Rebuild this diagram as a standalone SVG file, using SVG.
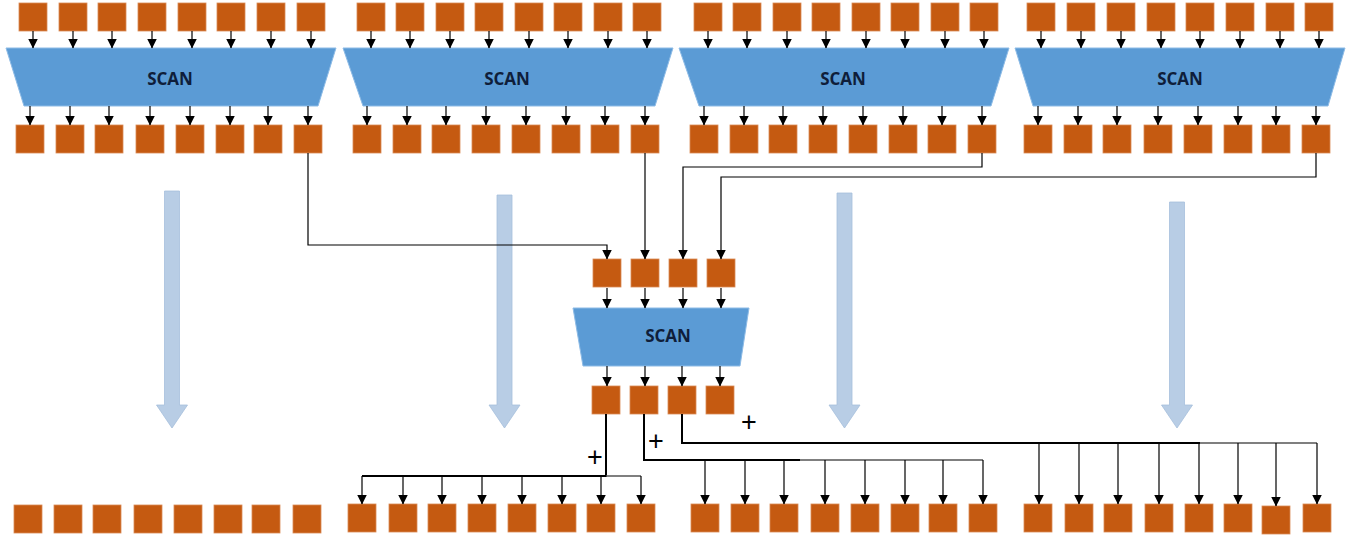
<svg xmlns="http://www.w3.org/2000/svg" width="1352" height="542" viewBox="0 0 1352 542">
<style>
.b{fill:#c55a11;stroke:#d98a55;stroke-width:0.8}
.t{fill:#5b9bd5;stroke:#8dbbe6;stroke-width:1}
.lbl{font-family:"Open Sans","Liberation Sans",sans-serif;font-weight:bold;font-size:17px;fill:#0f1e3a;text-anchor:middle;dominant-baseline:central}
.big{fill:#b8cde5;stroke:#a6bfdc;stroke-width:0.8}
.a{fill:none;stroke:#000;stroke-width:1.2;marker-end:url(#ah)}
.g{fill:none;stroke:#555;stroke-width:1.6}
.k{fill:none;stroke:#000;stroke-width:2}
.p{font-family:"Liberation Sans",Arial,sans-serif;font-size:27px;fill:#000;text-anchor:middle}
</style>
<defs>
<marker id="ah" markerUnits="userSpaceOnUse" markerWidth="11" markerHeight="11" refX="9.5" refY="5" orient="auto">
<path d="M0,0 L10,5 L0,10 z" fill="#000"/>
</marker>
<rect id="sq" width="28" height="28"/>
</defs>

<!-- Section 1 -->
<g id="s1-top">
<use href="#sq" class="b" x="19" y="3"/><use href="#sq" class="b" x="59" y="3"/><use href="#sq" class="b" x="98" y="3"/><use href="#sq" class="b" x="138" y="3"/>
<use href="#sq" class="b" x="178" y="3"/><use href="#sq" class="b" x="217" y="3"/><use href="#sq" class="b" x="257" y="3"/><use href="#sq" class="b" x="297" y="3"/>
</g>
<g id="scan1"><polygon class="t" points="6,48 336,48 318,106 24,106"/><text class="lbl" x="170" y="78">SCAN</text></g>
<g id="s1-out">
<use href="#sq" class="b" x="16" y="125"/><use href="#sq" class="b" x="56" y="125"/><use href="#sq" class="b" x="95" y="125"/><use href="#sq" class="b" x="136" y="125"/>
<use href="#sq" class="b" x="176" y="125"/><use href="#sq" class="b" x="216" y="125"/><use href="#sq" class="b" x="254" y="125"/><use href="#sq" class="b" x="294" y="125"/>
</g>

<!-- Section 2 -->
<g id="s2-top">
<use href="#sq" class="b" x="357" y="3"/><use href="#sq" class="b" x="396" y="3"/><use href="#sq" class="b" x="436" y="3"/><use href="#sq" class="b" x="475" y="3"/>
<use href="#sq" class="b" x="515" y="3"/><use href="#sq" class="b" x="554" y="3"/><use href="#sq" class="b" x="594" y="3"/><use href="#sq" class="b" x="633" y="3"/>
</g>
<g id="scan2"><polygon class="t" points="343,48 673,48 655,106 363,106"/><text class="lbl" x="507" y="78">SCAN</text></g>
<g id="s2-out">
<use href="#sq" class="b" x="353" y="125"/><use href="#sq" class="b" x="393" y="125"/><use href="#sq" class="b" x="432" y="125"/><use href="#sq" class="b" x="472" y="125"/>
<use href="#sq" class="b" x="512" y="125"/><use href="#sq" class="b" x="552" y="125"/><use href="#sq" class="b" x="591" y="125"/><use href="#sq" class="b" x="631" y="125"/>
</g>

<!-- Section 3 -->
<g id="s3-top">
<use href="#sq" class="b" x="694" y="3"/><use href="#sq" class="b" x="733" y="3"/><use href="#sq" class="b" x="773" y="3"/><use href="#sq" class="b" x="812" y="3"/>
<use href="#sq" class="b" x="852" y="3"/><use href="#sq" class="b" x="891" y="3"/><use href="#sq" class="b" x="931" y="3"/><use href="#sq" class="b" x="970" y="3"/>
</g>
<g id="scan3"><polygon class="t" points="679,48 1009,48 991,106 699,106"/><text class="lbl" x="843" y="78">SCAN</text></g>
<g id="s3-out">
<use href="#sq" class="b" x="690" y="125"/><use href="#sq" class="b" x="730" y="125"/><use href="#sq" class="b" x="769" y="125"/><use href="#sq" class="b" x="809" y="125"/>
<use href="#sq" class="b" x="849" y="125"/><use href="#sq" class="b" x="889" y="125"/><use href="#sq" class="b" x="928" y="125"/><use href="#sq" class="b" x="968" y="125"/>
</g>

<!-- Section 4 -->
<g id="s4-top">
<use href="#sq" class="b" x="1027" y="3"/><use href="#sq" class="b" x="1067" y="3"/><use href="#sq" class="b" x="1107" y="3"/><use href="#sq" class="b" x="1147" y="3"/>
<use href="#sq" class="b" x="1186" y="3"/><use href="#sq" class="b" x="1226" y="3"/><use href="#sq" class="b" x="1266" y="3"/><use href="#sq" class="b" x="1305" y="3"/>
</g>
<g id="scan4"><polygon class="t" points="1015,48 1345,48 1328,106 1033,106"/><text class="lbl" x="1180" y="78">SCAN</text></g>
<g id="s4-out">
<use href="#sq" class="b" x="1024" y="125"/><use href="#sq" class="b" x="1064" y="125"/><use href="#sq" class="b" x="1103" y="125"/><use href="#sq" class="b" x="1144" y="125"/>
<use href="#sq" class="b" x="1184" y="125"/><use href="#sq" class="b" x="1224" y="125"/><use href="#sq" class="b" x="1262" y="125"/><use href="#sq" class="b" x="1302" y="125"/>
</g>

<!-- Big light-blue arrows -->
<g id="big-arrows">
<polygon class="big" points="164.5,191 179.5,191 179.5,405 187.5,405 172,428 156.5,405 164.5,405"/>
<polygon class="big" points="497,195 512,195 512,405 520,405 504.5,428 489,405 497,405"/>
<polygon class="big" points="837,193 852,193 852,405 860,405 844.5,428 829,405 837,405"/>
<polygon class="big" points="1169.5,202 1184.5,202 1184.5,405 1192.5,405 1177,428 1161.5,405 1169.5,405"/>
</g>

<!-- Middle scan -->
<g id="mid-in">
<use href="#sq" class="b" x="593" y="259"/><use href="#sq" class="b" x="631" y="259"/><use href="#sq" class="b" x="669" y="259"/><use href="#sq" class="b" x="707" y="259"/>
</g>
<g id="scan-mid"><polygon class="t" points="573,308 749,308 740,366 583,366"/><text class="lbl" x="668" y="335">SCAN</text></g>
<g id="mid-out">
<use href="#sq" class="b" x="592" y="386"/><use href="#sq" class="b" x="630" y="386"/><use href="#sq" class="b" x="668" y="386"/><use href="#sq" class="b" x="706" y="386"/>
</g>

<!-- Bottom rows -->
<g id="r1">
<use href="#sq" class="b" x="14" y="505"/><use href="#sq" class="b" x="54" y="505"/><use href="#sq" class="b" x="93" y="505"/><use href="#sq" class="b" x="134" y="505"/>
<use href="#sq" class="b" x="174" y="505"/><use href="#sq" class="b" x="214" y="505"/><use href="#sq" class="b" x="252" y="505"/><use href="#sq" class="b" x="293" y="505"/>
</g>
<g id="r2">
<use href="#sq" class="b" x="348" y="504"/><use href="#sq" class="b" x="389" y="504"/><use href="#sq" class="b" x="428" y="504"/><use href="#sq" class="b" x="468" y="504"/>
<use href="#sq" class="b" x="508" y="504"/><use href="#sq" class="b" x="548" y="504"/><use href="#sq" class="b" x="587" y="504"/><use href="#sq" class="b" x="627" y="504"/>
</g>
<g id="r3">
<use href="#sq" class="b" x="691" y="504"/><use href="#sq" class="b" x="731" y="504"/><use href="#sq" class="b" x="770" y="504"/><use href="#sq" class="b" x="811" y="504"/>
<use href="#sq" class="b" x="851" y="504"/><use href="#sq" class="b" x="891" y="504"/><use href="#sq" class="b" x="929" y="504"/><use href="#sq" class="b" x="969" y="504"/>
</g>
<g id="r4">
<use href="#sq" class="b" x="1024" y="504"/><use href="#sq" class="b" x="1065" y="504"/><use href="#sq" class="b" x="1104" y="504"/><use href="#sq" class="b" x="1145" y="504"/>
<use href="#sq" class="b" x="1185" y="504"/><use href="#sq" class="b" x="1224" y="504"/><use href="#sq" class="b" x="1262" y="506"/><use href="#sq" class="b" x="1303" y="504"/>
</g>

<!-- Connectors -->
<g id="connectors">
<g id="s1-in-arrows">
<line class="a" x1="33" y1="31" x2="33" y2="48"/><line class="a" x1="73" y1="31" x2="73" y2="48"/><line class="a" x1="112" y1="31" x2="112" y2="48"/><line class="a" x1="152" y1="31" x2="152" y2="48"/>
<line class="a" x1="192" y1="31" x2="192" y2="48"/><line class="a" x1="231" y1="31" x2="231" y2="48"/><line class="a" x1="271" y1="31" x2="271" y2="48"/><line class="a" x1="311" y1="31" x2="311" y2="48"/>
</g>
<g id="s1-out-arrows">
<line class="a" x1="30" y1="106" x2="30" y2="125"/><line class="a" x1="70" y1="106" x2="70" y2="125"/><line class="a" x1="109" y1="106" x2="109" y2="125"/><line class="a" x1="150" y1="106" x2="150" y2="125"/>
<line class="a" x1="190" y1="106" x2="190" y2="125"/><line class="a" x1="230" y1="106" x2="230" y2="125"/><line class="a" x1="268" y1="106" x2="268" y2="125"/><line class="a" x1="308" y1="106" x2="308" y2="125"/>
</g>
<g id="s2-in-arrows">
<line class="a" x1="371" y1="31" x2="371" y2="48"/><line class="a" x1="410" y1="31" x2="410" y2="48"/><line class="a" x1="450" y1="31" x2="450" y2="48"/><line class="a" x1="489" y1="31" x2="489" y2="48"/>
<line class="a" x1="529" y1="31" x2="529" y2="48"/><line class="a" x1="568" y1="31" x2="568" y2="48"/><line class="a" x1="608" y1="31" x2="608" y2="48"/><line class="a" x1="647" y1="31" x2="647" y2="48"/>
</g>
<g id="s2-out-arrows">
<line class="a" x1="367" y1="106" x2="367" y2="125"/><line class="a" x1="407" y1="106" x2="407" y2="125"/><line class="a" x1="446" y1="106" x2="446" y2="125"/><line class="a" x1="486" y1="106" x2="486" y2="125"/>
<line class="a" x1="526" y1="106" x2="526" y2="125"/><line class="a" x1="566" y1="106" x2="566" y2="125"/><line class="a" x1="605" y1="106" x2="605" y2="125"/><line class="a" x1="645" y1="106" x2="645" y2="125"/>
</g>
<g id="s3-in-arrows">
<line class="a" x1="708" y1="31" x2="708" y2="48"/><line class="a" x1="747" y1="31" x2="747" y2="48"/><line class="a" x1="787" y1="31" x2="787" y2="48"/><line class="a" x1="826" y1="31" x2="826" y2="48"/>
<line class="a" x1="866" y1="31" x2="866" y2="48"/><line class="a" x1="905" y1="31" x2="905" y2="48"/><line class="a" x1="945" y1="31" x2="945" y2="48"/><line class="a" x1="984" y1="31" x2="984" y2="48"/>
</g>
<g id="s3-out-arrows">
<line class="a" x1="704" y1="106" x2="704" y2="125"/><line class="a" x1="744" y1="106" x2="744" y2="125"/><line class="a" x1="783" y1="106" x2="783" y2="125"/><line class="a" x1="823" y1="106" x2="823" y2="125"/>
<line class="a" x1="863" y1="106" x2="863" y2="125"/><line class="a" x1="903" y1="106" x2="903" y2="125"/><line class="a" x1="942" y1="106" x2="942" y2="125"/><line class="a" x1="982" y1="106" x2="982" y2="125"/>
</g>
<g id="s4-in-arrows">
<line class="a" x1="1041" y1="31" x2="1041" y2="48"/><line class="a" x1="1081" y1="31" x2="1081" y2="48"/><line class="a" x1="1121" y1="31" x2="1121" y2="48"/><line class="a" x1="1161" y1="31" x2="1161" y2="48"/>
<line class="a" x1="1200" y1="31" x2="1200" y2="48"/><line class="a" x1="1240" y1="31" x2="1240" y2="48"/><line class="a" x1="1280" y1="31" x2="1280" y2="48"/><line class="a" x1="1319" y1="31" x2="1319" y2="48"/>
</g>
<g id="s4-out-arrows">
<line class="a" x1="1038" y1="106" x2="1038" y2="125"/><line class="a" x1="1078" y1="106" x2="1078" y2="125"/><line class="a" x1="1117" y1="106" x2="1117" y2="125"/><line class="a" x1="1158" y1="106" x2="1158" y2="125"/>
<line class="a" x1="1198" y1="106" x2="1198" y2="125"/><line class="a" x1="1238" y1="106" x2="1238" y2="125"/><line class="a" x1="1276" y1="106" x2="1276" y2="125"/><line class="a" x1="1316" y1="106" x2="1316" y2="125"/>
</g>
<!-- to middle -->
<path class="a" d="M308,153V245H607V259"/>
<path class="a" d="M645,153V259"/>
<path class="a" d="M982,153V167H683V259"/>
<path class="a" d="M1316,153V177H721V259"/>
<!-- middle arrows -->
<line class="a" x1="607" y1="288" x2="607" y2="308"/><line class="a" x1="645" y1="288" x2="645" y2="308"/><line class="a" x1="683" y1="288" x2="683" y2="308"/><line class="a" x1="721" y1="288" x2="721" y2="308"/>
<line class="a" x1="607" y1="366" x2="607" y2="386"/><line class="a" x1="645" y1="366" x2="645" y2="386"/><line class="a" x1="682" y1="366" x2="682" y2="386"/><line class="a" x1="720" y1="366" x2="720" y2="386"/>
<!-- outputs to bottom rows -->
<path class="k" d="M606,414V476H362"/>
<path class="g" d="M606,476H641"/>
<line class="a" x1="362" y1="476" x2="362" y2="504"/><line class="a" x1="403" y1="476" x2="403" y2="504"/><line class="a" x1="442" y1="476" x2="442" y2="504"/><line class="a" x1="482" y1="476" x2="482" y2="504"/>
<line class="a" x1="522" y1="476" x2="522" y2="504"/><line class="a" x1="562" y1="476" x2="562" y2="504"/><line class="a" x1="601" y1="476" x2="601" y2="504"/><line class="a" x1="641" y1="476" x2="641" y2="504"/>
<path class="k" d="M644,414V460H800"/>
<path class="g" d="M800,460H983"/>
<line class="a" x1="705" y1="460" x2="705" y2="504"/><line class="a" x1="745" y1="460" x2="745" y2="504"/><line class="a" x1="784" y1="460" x2="784" y2="504"/><line class="a" x1="825" y1="460" x2="825" y2="504"/>
<line class="a" x1="865" y1="460" x2="865" y2="504"/><line class="a" x1="905" y1="460" x2="905" y2="504"/><line class="a" x1="943" y1="460" x2="943" y2="504"/><line class="a" x1="983" y1="460" x2="983" y2="504"/>
<path class="k" d="M682,414V443H1200"/>
<path class="g" d="M1200,443H1317"/>
<line class="a" x1="1039" y1="443" x2="1039" y2="504"/><line class="a" x1="1079" y1="443" x2="1079" y2="504"/><line class="a" x1="1118" y1="443" x2="1118" y2="504"/><line class="a" x1="1159" y1="443" x2="1159" y2="504"/>
<line class="a" x1="1199" y1="443" x2="1199" y2="504"/><line class="a" x1="1238" y1="443" x2="1238" y2="504"/><line class="a" x1="1276" y1="443" x2="1276" y2="506"/><line class="a" x1="1317" y1="443" x2="1317" y2="504"/>
</g>

<g id="plus-labels">
<text class="p" x="595" y="466">+</text>
<text class="p" x="656" y="450">+</text>
<text class="p" x="749" y="431">+</text>
</g>
</svg>
